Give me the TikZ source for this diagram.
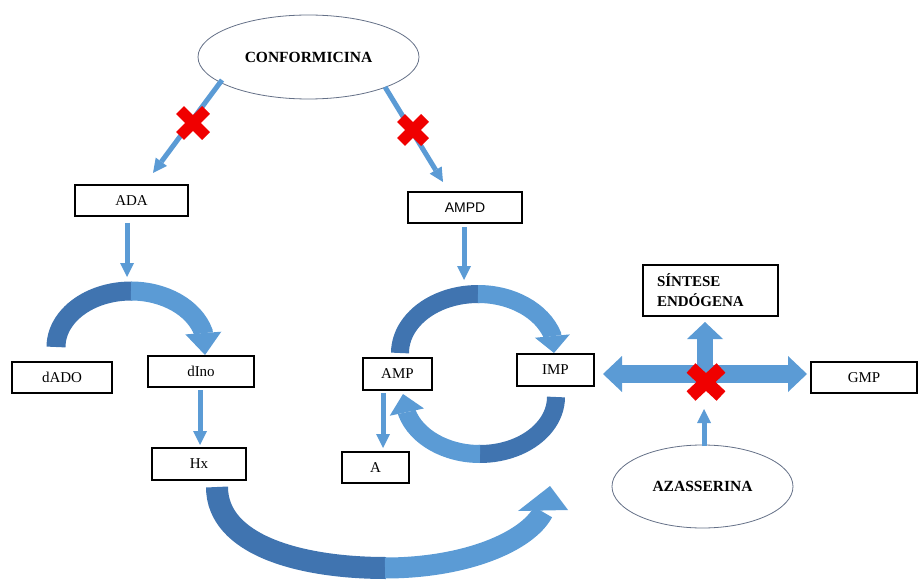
\documentclass[tikz,border=0pt]{standalone}
\usepackage{fontspec}
\setmainfont{Liberation Serif}
\newfontfamily\sansf{Liberation Sans}
\usetikzlibrary{arrows.meta,shapes.geometric,calc}
\definecolor{lblue}{RGB}{91,155,213}
\definecolor{dblue}{RGB}{64,116,176}
\definecolor{ellc}{RGB}{100,112,135}
\definecolor{xred}{RGB}{240,0,0}
\begin{document}
\begin{tikzpicture}[x=1pt,y=1pt,yscale=-1,
  box/.style={draw=black, line width=1.1pt, fill=white, inner sep=0pt, font=\fontsize{15}{18}\selectfont},
  ell/.style={ellipse, draw=ellc, line width=0.8pt, fill=white, inner sep=0pt, font=\bfseries\fontsize{15.5}{18}\selectfont},
  thinarrow/.style={draw=lblue, line width=5pt, -{Triangle[width=14pt,length=14pt,line width=0pt]}},
  redx/.style={draw=xred, line cap=butt},
  arctip/.style 2 args={-{Triangle[width=#1,length=#2,line width=0pt]}}
]
\useasboundingbox (0,0) rectangle (918,580);

% nodes
\node[ell, minimum width=221, minimum height=84] (conf) at (308.5,57) {CONFORMICINA};
\node[box, minimum width=113, minimum height=31] (ada) at (131.5,200.5) {ADA};
\node[box, minimum width=114, minimum height=31, font=\sansf\fontsize{14}{16}\selectfont] (ampd) at (465,207.5) {AMPD};
\node[box, minimum width=100, minimum height=31] (dado) at (62,377.5) {dADO};
\node[box, minimum width=106, minimum height=31] (dino) at (201,371.5) {dIno};
\node[box, minimum width=94, minimum height=32] (hx) at (199,464) {Hx};
\node[box, minimum width=69, minimum height=32] (amp) at (397.5,374) {AMP};
\node[box, minimum width=77, minimum height=32] (imp) at (555.5,370) {IMP};
\node[box, minimum width=67, minimum height=31] (a) at (375.5,467.5) {A};
\node[box, minimum height=51, text width=107, inner xsep=14pt, align=left, font=\bfseries\fontsize{15}{20}\selectfont] (sint) at (710.5,290.5) {SÍNTESE\\ENDÓGENA};
\node[box, minimum width=106, minimum height=31] (gmp) at (864,377.5) {GMP};
\node[ell, minimum width=181, minimum height=83] (aza) at (702.5,486.5) {AZASSERINA};

% coordinates for arrow ends
\coordinate (cl1) at (222,80);  \coordinate (cl2) at (153,173);
\coordinate (cr1) at (385,87);  \coordinate (cr2) at (443,182);
\coordinate (ad1) at (127,223); \coordinate (ad2) at (127,277);
\coordinate (am1) at (464,227); \coordinate (am2) at (464,280);
\coordinate (di1) at (200,390); \coordinate (di2) at (200,445);
\coordinate (ap1) at (383,393); \coordinate (ap2) at (383,448);
\coordinate (az1) at (704,446); \coordinate (az2) at (704,409);
\coordinate (hl) at (603,374);  \coordinate (hr) at (807,374);
\coordinate (vb) at (705,374);  \coordinate (vt) at (705,322);
\coordinate (t1) at (205,355);
\coordinate (t2) at (554,353);
\coordinate (t3) at (403,394);
\coordinate (t4) at (550,486);
\coordinate (h4l) at (518,511);
\coordinate (h4r) at (568,510);

% straight arrows
\draw[thinarrow] (cl1) -- (cl2);
\draw[thinarrow] (cr1) -- (cr2);
\draw[thinarrow] (ad1) -- (ad2);
\draw[thinarrow] (am1) -- (am2);
\draw[thinarrow] (di1) -- (di2);
\draw[thinarrow] (ap1) -- (ap2);
\draw[thinarrow] (az1) -- (az2);

% curved arrow dADO -> dIno
\draw[dblue, line width=19pt] (56,347) arc[start angle=180, end angle=271, x radius=75pt, y radius=56pt];
\draw[lblue, line width=19pt, arctip={36pt}{22pt}] (131,291) arc[start angle=270, end angle=344.5, x radius=75pt, y radius=56pt] -- (t1);
% curved arrow AMP -> IMP
\draw[dblue, line width=18pt] (400,353) arc[start angle=180, end angle=271, x radius=78pt, y radius=59pt];
\draw[lblue, line width=18pt, arctip={35pt}{17pt}] (478,294) arc[start angle=270, end angle=342.2, x radius=78pt, y radius=59pt] -- (t2);
% curved arrow IMP -> AMP
\draw[dblue, line width=18pt] (556,397) arc[start angle=0, end angle=91, x radius=76pt, y radius=57pt];
\draw[lblue, line width=18pt, arctip={35pt}{18.5pt}] (480,454) arc[start angle=90, end angle=163.7, x radius=76pt, y radius=57pt] -- (t3);
% big curved arrow from Hx
\draw[dblue, line width=22pt] (217,487) .. controls (217,545) and (300,568) .. (386,568);
\draw[lblue, line width=21pt] (385,568) .. controls (465,568) and (527,542) .. (543,512);
\fill[lblue] (h4l) -- (t4) -- (h4r) -- cycle;

% cross arrows
\draw[lblue, line width=18pt, {Triangle[width=36pt,length=19pt,line width=0pt]}-{Triangle[width=36pt,length=19pt,line width=0pt]}] (hl) -- (hr);
\draw[lblue, line width=16pt, -{Triangle[width=36pt,length=17pt,line width=0pt]}] (vb) -- (vt);

% red crosses
\coordinate (x1) at (193,123);
\coordinate (x2) at (413,130);
\coordinate (x3) at (706,382);
\draw[redx, line width=11pt] ($(x1)+(-13,-13)$) -- ($(x1)+(13,13)$) ($(x1)+(-13,13)$) -- ($(x1)+(13,-13)$);
\draw[redx, line width=11pt] ($(x2)+(-12,-12)$) -- ($(x2)+(12,12)$) ($(x2)+(-12,12)$) -- ($(x2)+(12,-12)$);
\draw[redx, line width=13pt] ($(x3)+(-15,-14)$) -- ($(x3)+(15,14)$) ($(x3)+(-15,14)$) -- ($(x3)+(15,-14)$);
\end{tikzpicture}
\end{document}
